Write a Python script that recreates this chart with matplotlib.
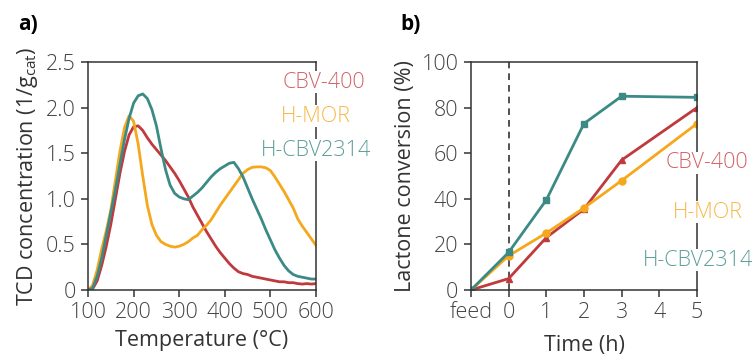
import matplotlib
matplotlib.use("Agg")
import matplotlib.pyplot as plt

plt.rcParams['font.family'] = ['Open Sans', 'DejaVu Sans']
plt.rcParams['font.weight'] = 'light'
plt.rcParams['mathtext.fontset'] = 'custom'
plt.rcParams['mathtext.rm'] = 'Open Sans:light'

# ---- panel a data: TCD signal vs temperature ----
temp = [100, 110, 120, 130, 140, 150, 160, 170, 180, 190,
        200, 210, 220, 230, 240, 250, 260, 270, 280, 290,
        300, 310, 320, 330, 340, 350, 360, 370, 380, 390,
        400, 410, 420, 430, 440, 450, 460, 470, 480, 490,
        500, 510, 520, 530, 540, 550, 560, 570, 580, 590, 600]

tcd_cbv400 = [0, 0.01, 0.10, 0.27, 0.48, 0.72, 1.00, 1.28, 1.52, 1.70,
              1.79, 1.80, 1.75, 1.67, 1.60, 1.54, 1.48, 1.42, 1.35, 1.28,
              1.20, 1.11, 1.02, 0.91, 0.82, 0.73, 0.64, 0.56, 0.48, 0.41,
              0.35, 0.29, 0.24, 0.20, 0.18, 0.17, 0.15, 0.14, 0.13, 0.12,
              0.11, 0.10, 0.09, 0.09, 0.08, 0.08, 0.07, 0.065, 0.07, 0.065, 0.07]

tcd_hmor = [0, 0.05, 0.22, 0.45, 0.65, 0.88, 1.20, 1.52, 1.78, 1.91,
            1.85, 1.60, 1.25, 0.93, 0.72, 0.60, 0.53, 0.50, 0.48, 0.47,
            0.48, 0.50, 0.53, 0.57, 0.60, 0.66, 0.71, 0.77, 0.85, 0.93,
            1.00, 1.07, 1.14, 1.21, 1.28, 1.32, 1.345, 1.35, 1.35, 1.34,
            1.31, 1.24, 1.16, 1.08, 0.99, 0.90, 0.78, 0.70, 0.63, 0.56, 0.49]

tcd_hcbv = [0, 0.02, 0.15, 0.35, 0.60, 0.85, 1.10, 1.38, 1.65, 1.88,
            2.05, 2.13, 2.15, 2.10, 1.98, 1.80, 1.55, 1.32, 1.15, 1.06,
            1.02, 1.00, 0.99, 1.03, 1.07, 1.12, 1.18, 1.24, 1.29, 1.33,
            1.36, 1.39, 1.40, 1.33, 1.24, 1.12, 1.00, 0.89, 0.78, 0.66,
            0.55, 0.44, 0.35, 0.27, 0.21, 0.17, 0.15, 0.14, 0.13, 0.12, 0.12]

# ---- panel b data: lactone conversion vs time (feed plotted at -1) ----
time_h = [-1, 0, 1, 2, 3, 5]
time_ticks = [-1, 0, 1, 2, 3, 4, 5]
time_labels = ['feed', '0', '1', '2', '3', '4', '5']
conv_cbv400 = [0, 5, 23, 35.5, 57, 80]
conv_hmor = [0, 15, 25, 36, 48, 73]
conv_hcbv = [0, 16.5, 39.5, 73, 85, 84.5]

names = ['CBV-400', 'H-MOR', 'H-CBV2314']
line_colors = ['#c0393d', '#f5a81c', '#3b8a85']
text_colors = ['#d06468', '#f7b84a', '#5c9e99']
markers = ['^', 'o', 's']

fig = plt.figure(figsize=(7.55, 3.56), dpi=100)
ax1 = fig.add_axes([0.1166, 0.1854, 0.3019, 0.6404])
ax2 = fig.add_axes([0.6238, 0.1854, 0.2994, 0.6404])

fs = 15.5

for ax in (ax1, ax2):
    for s in ax.spines.values():
        s.set_color('#333333')
        s.set_linewidth(1.1)
    ax.tick_params(direction='out', length=5, width=1.1, color='#333333',
                   labelcolor='#444444', labelsize=fs, pad=4)

# panel a
for y, c in zip([tcd_cbv400, tcd_hmor, tcd_hcbv], line_colors):
    ax1.plot(temp, y, color=c, lw=2)
ax1.set_xlim(100, 600)
ax1.set_ylim(0, 2.5)
ax1.set_xticks([100, 200, 300, 400, 500, 600])
ax1.set_yticks([0, 0.5, 1.0, 1.5, 2.0, 2.5])
ax1.set_yticklabels(['0', '0.5', '1.0', '1.5', '2.0', '2.5'])
ax1.set_xlabel('Temperature (°C)', fontsize=fs, color='#333333', labelpad=5)
ax1.set_ylabel(r'TCD concentration (1/g$_\mathregular{cat}$)', fontsize=fs,
               color='#333333', labelpad=4)

pos_a = [(365, 82), (351, 116), (371, 150)]
for n, tc, (px, py) in zip(names, text_colors, pos_a):
    fig.text(px / 755, 1 - py / 356, n, color=tc, fontsize=fs, ha='right',
             va='center', bbox=dict(facecolor='white', edgecolor='none', pad=0.5))

# panel b
for y, c, m in zip([conv_cbv400, conv_hmor, conv_hcbv], line_colors, markers):
    ax2.plot(time_h, y, color=c, lw=2, marker=m, markersize=5)
ax2.axvline(0, color='#333333', lw=1.2, ls=(0, (4, 3)), zorder=0)
ax2.set_xlim(-1, 5)
ax2.set_ylim(0, 100)
ax2.set_xticks(time_ticks)
ax2.set_xticklabels(time_labels)
ax2.set_yticks([0, 20, 40, 60, 80, 100])
ax2.set_xlabel('Time (h)', fontsize=fs, color='#333333', labelpad=8)
ax2.set_ylabel('Lactone conversion (%)', fontsize=fs, color='#333333', labelpad=4)

pos_b = [(707, 163), (708, 212), (698, 260)]
for n, tc, (px, py) in zip(names, text_colors, pos_b):
    fig.text(px / 755, 1 - py / 356, n, color=tc, fontsize=fs, ha='center',
             va='center', bbox=dict(facecolor='white', edgecolor='none', pad=0.5))

fig.text(18 / 755, 1 - 25 / 356, 'a)', fontsize=15, fontweight='bold', va='center')
fig.text(400 / 755, 1 - 25 / 356, 'b)', fontsize=15, fontweight='bold', va='center')

fig.savefig('out.png', dpi=100)
